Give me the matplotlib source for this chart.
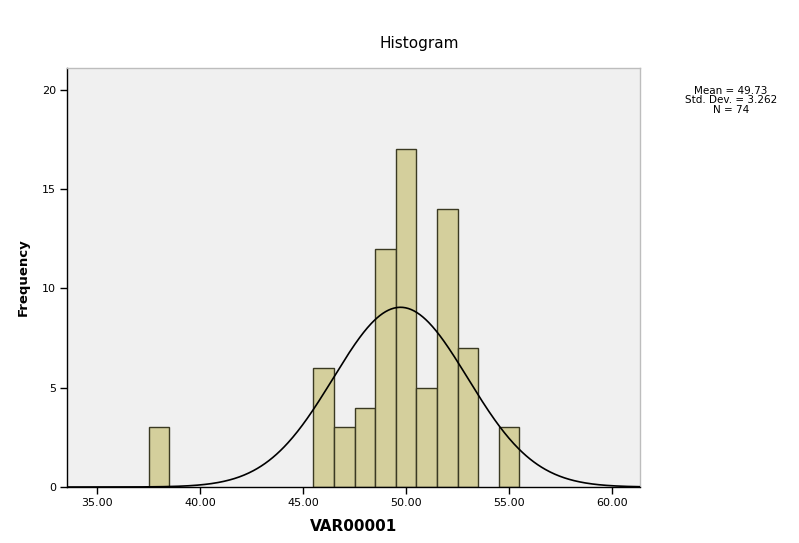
import numpy as np
import matplotlib
matplotlib.use("Agg")
import matplotlib.pyplot as plt

# Histogram data (bin centers, bin width 1) and counts
bin_centers = [38, 46, 47, 48, 49, 50, 51, 52, 53, 55]
counts = [3, 6, 3, 4, 12, 17, 5, 14, 7, 3]
x_ticks = [35, 40, 45, 50, 55, 60]
y_ticks = [0, 5, 10, 15, 20]
stat_mean = 49.73
stat_sd = 3.262
stat_n = 74
bin_width = 1.0

fig = plt.figure(figsize=(7.99, 5.43), dpi=100)
ax = fig.add_axes([0.0839, 0.1031, 0.7171, 0.7717])
ax.set_facecolor("#f0f0f0")

ax.bar(bin_centers, counts, width=bin_width, color="#d4cf9c",
       edgecolor="#3a3922", linewidth=1.0, zorder=2)

xs = np.linspace(33.54, 61.36, 600)
ys = stat_n * bin_width / (stat_sd * np.sqrt(2 * np.pi)) * np.exp(-0.5 * ((xs - stat_mean) / stat_sd) ** 2)
ax.plot(xs, ys, color="black", linewidth=1.2, zorder=3)

ax.set_xlim(33.54, 61.36)
ax.set_ylim(0, 21.1)
ax.set_xticks(x_ticks)
ax.set_xticklabels([f"{t:.2f}" for t in x_ticks], fontsize=8)
ax.set_yticks(y_ticks)
ax.set_yticklabels([str(t) for t in y_ticks], fontsize=8)
ax.tick_params(direction="out", length=5, width=1, color="black", pad=3)

for s in ["top", "right"]:
    ax.spines[s].set_color("#bdbdbd")
    ax.spines[s].set_linewidth(1)
for s in ["left", "bottom"]:
    ax.spines[s].set_color("black")
    ax.spines[s].set_linewidth(1)

ax.set_xlabel("VAR00001", fontsize=11, fontweight="bold", labelpad=8)
ax.set_ylabel("Frequency", fontsize=9.5, fontweight="bold", labelpad=9)

fig.text(0.525, 0.92, "Histogram", ha="center", va="center", fontsize=11)
fig.text(0.915, 0.815, f"Mean = {stat_mean:.2f}\nStd. Dev. = {stat_sd:.3f}\nN = {stat_n}",
         ha="center", va="center", fontsize=7.5, linespacing=0.95)

fig.savefig("out.png", dpi=100)
